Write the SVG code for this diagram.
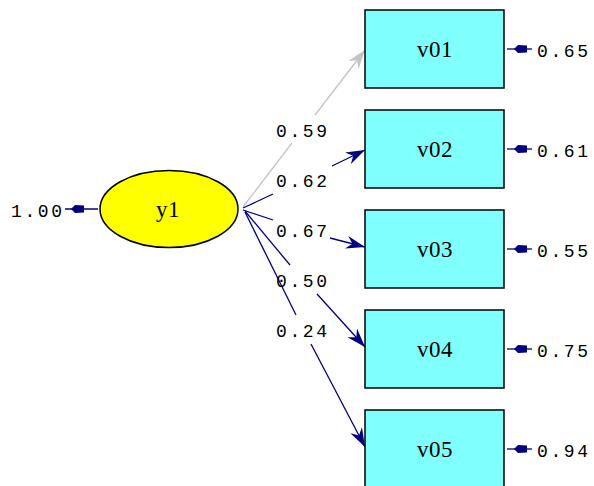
<svg xmlns="http://www.w3.org/2000/svg" width="594" height="486" viewBox="0 0 594 486">
<style>
.box{fill:#80ffff;stroke:#000;stroke-width:1.5}
.lat{fill:#ffff00;stroke:#000;stroke-width:1.5}
.nt{font-family:"Liberation Serif",serif;font-size:23px;fill:#000;text-anchor:middle;letter-spacing:0.5px}
.num{font-family:"Liberation Mono",monospace;font-size:18px;fill:#000;letter-spacing:2.6px}
.ln{fill:none;stroke:#000080;stroke-width:1.3}
.gl{fill:none;stroke:#c4c4c4;stroke-width:1.3}
.eh{fill:#000080}
</style>
<defs>
<marker id="ah" markerUnits="userSpaceOnUse" markerWidth="24" markerHeight="16" viewBox="-20 -8 24 16" refX="0" refY="0" orient="auto">
<path d="M0,0 L-19,-6.5 L-13,0 L-19,6.5 Z" fill="#000080"/>
</marker>
<marker id="ahg" markerUnits="userSpaceOnUse" markerWidth="24" markerHeight="16" viewBox="-20 -8 24 16" refX="0" refY="0" orient="auto">
<path d="M0,0 L-19,-6.5 L-13,0 L-19,6.5 Z" fill="#c4c4c4"/>
</marker>
</defs>
<g id="connectors">
<path class="gl" d="M243,207 L292,143"/>
<path class="gl" d="M315,115 L365,50" marker-end="url(#ahg)"/>
<path class="ln" d="M243,208 L273,194"/>
<path class="ln" d="M332,166 L365,150" marker-end="url(#ah)"/>
<path class="ln" d="M243,210 L273,220"/>
<path class="ln" d="M330,238 L365,247" marker-end="url(#ah)"/>
<path class="ln" d="M245,211 L290,265"/>
<path class="ln" d="M317,294 L365,347" marker-end="url(#ah)"/>
<path class="ln" d="M245,212 L296,315"/>
<path class="ln" d="M311,344 L365,447" marker-end="url(#ah)"/>
<path class="ln" d="M65,209 L98,209"/>
<path class="eh" d="M71,209 L75,205 L84,205.5 L84,212.5 L75,213 Z"/>
<path class="ln" d="M507,49 L532,49"/>
<path class="eh" d="M514,49 L518,45 L527,45.5 L527,52.5 L518,53 Z"/>
<path class="ln" d="M507,149 L532,149"/>
<path class="eh" d="M514,149 L518,145 L527,145.5 L527,152.5 L518,153 Z"/>
<path class="ln" d="M507,249 L532,249"/>
<path class="eh" d="M514,249 L518,245 L527,245.5 L527,252.5 L518,253 Z"/>
<path class="ln" d="M507,349 L532,349"/>
<path class="eh" d="M514,349 L518,345 L527,345.5 L527,352.5 L518,353 Z"/>
<path class="ln" d="M507,449 L532,449"/>
<path class="eh" d="M514,449 L518,445 L527,445.5 L527,452.5 L518,453 Z"/>
</g>
<g id="labels">
<text class="num" x="276" y="137">0.59</text>
<text class="num" x="276" y="187">0.62</text>
<text class="num" x="276" y="237">0.67</text>
<text class="num" x="276" y="287">0.50</text>
<text class="num" x="276" y="337">0.24</text>
<text class="num" x="11" y="217">1.00</text>
<text class="num" x="537" y="57">0.65</text>
<text class="num" x="537" y="157">0.61</text>
<text class="num" x="537" y="257">0.55</text>
<text class="num" x="537" y="357">0.75</text>
<text class="num" x="537" y="457">0.94</text>
</g>
<g id="y1">
<ellipse class="lat" cx="169" cy="209" rx="69" ry="38.5"/>
<text class="nt" x="168" y="217">y1</text>
</g>
<g id="v01"><rect class="box" x="365" y="10" width="139" height="78"/><text class="nt" x="435" y="57">v01</text></g>
<g id="v02"><rect class="box" x="365" y="110" width="139" height="78"/><text class="nt" x="435" y="157">v02</text></g>
<g id="v03"><rect class="box" x="365" y="210" width="139" height="78"/><text class="nt" x="435" y="257">v03</text></g>
<g id="v04"><rect class="box" x="365" y="310" width="139" height="78"/><text class="nt" x="435" y="357">v04</text></g>
<g id="v05"><rect class="box" x="365" y="410" width="139" height="78"/><text class="nt" x="435" y="457">v05</text></g>
</svg>
